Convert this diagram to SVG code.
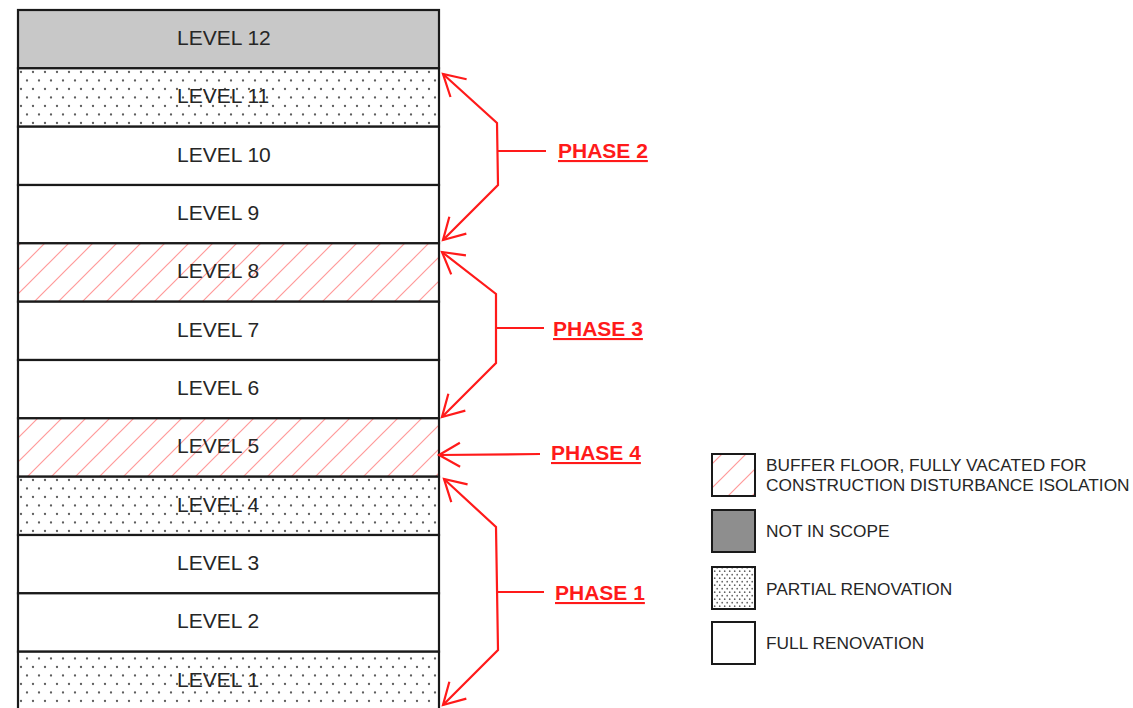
<svg xmlns="http://www.w3.org/2000/svg" width="1133" height="708" viewBox="0 0 1133 708">
<style>
.lvl{stroke:#1a1a1a;stroke-width:2.2}
.lbl{font-family:"Liberation Sans",Arial,sans-serif;font-size:21px;fill:#262626}
.red{fill:none;stroke:#ff1a1a;stroke-width:2.2;stroke-linejoin:miter}
.ph{font-family:"Liberation Sans",Arial,sans-serif;font-size:21px;font-weight:bold;fill:#ff1a1a;text-decoration:underline}
.lg{font-family:"Liberation Sans",Arial,sans-serif;font-size:17.3px;fill:#262626}
.box{stroke:#1a1a1a;stroke-width:2}
</style>
<defs>
<pattern id="dots" width="12" height="17" patternUnits="userSpaceOnUse" x="18" y="68">
<rect width="12" height="17" fill="#fff"/>
<circle cx="3" cy="4" r="1.15" fill="#5e5e5e"/>
<circle cx="9" cy="12.5" r="1.15" fill="#5e5e5e"/>
</pattern>
<pattern id="dotsS" width="5" height="7" patternUnits="userSpaceOnUse" x="711" y="566">
<rect width="5" height="7" fill="#fff"/>
<circle cx="1.2" cy="1.7" r="0.85" fill="#606060"/>
<circle cx="3.7" cy="5.2" r="0.85" fill="#606060"/>
</pattern>
<pattern id="hatch" width="24" height="24" patternUnits="userSpaceOnUse">
<rect width="24" height="24" fill="#fff"/>
<path d="M-6,6 L6,-6 M0,24 L24,0 M18,30 L30,18" stroke="#ff9a9a" stroke-width="1.2"/>
</pattern>
<marker id="ah" markerWidth="30" markerHeight="30" refX="0" refY="0" viewBox="-25 -15 30 30" markerUnits="userSpaceOnUse" orient="auto-start-reverse">
<path d="M-21,-12 L0,0 L-21,12" fill="none" stroke="#ff1a1a" stroke-width="2.2"/>
</marker>
</defs>
<rect width="1133" height="708" fill="#fff"/>

<g id="building">
<g id="level-12"><rect class="lvl" x="18" y="10" width="421" height="58.3" fill="#c8c8c8"/><text class="lbl" x="177" y="45">LEVEL 12</text></g>
<g id="level-11"><rect class="lvl" x="18" y="68.3" width="421" height="58.4" fill="url(#dots)"/><text class="lbl" x="177" y="103.3">LEVEL 11</text></g>
<g id="level-10"><rect class="lvl" x="18" y="126.7" width="421" height="58.3" fill="#fff"/><text class="lbl" x="177" y="161.6">LEVEL 10</text></g>
<g id="level-9"><rect class="lvl" x="18" y="185" width="421" height="58.3" fill="#fff"/><text class="lbl" x="177" y="219.9">LEVEL 9</text></g>
<g id="level-8"><rect class="lvl" x="18" y="243.3" width="421" height="58.4" fill="url(#hatch)"/><text class="lbl" x="177" y="278.3">LEVEL 8</text></g>
<g id="level-7"><rect class="lvl" x="18" y="301.7" width="421" height="58.3" fill="#fff"/><text class="lbl" x="177" y="336.6">LEVEL 7</text></g>
<g id="level-6"><rect class="lvl" x="18" y="360" width="421" height="58.3" fill="#fff"/><text class="lbl" x="177" y="394.9">LEVEL 6</text></g>
<g id="level-5"><rect class="lvl" x="18" y="418.3" width="421" height="58.4" fill="url(#hatch)"/><text class="lbl" x="177" y="453.3">LEVEL 5</text></g>
<g id="level-4"><rect class="lvl" x="18" y="476.7" width="421" height="58.3" fill="url(#dots)"/><text class="lbl" x="177" y="511.6">LEVEL 4</text></g>
<g id="level-3"><rect class="lvl" x="18" y="535" width="421" height="58.3" fill="#fff"/><text class="lbl" x="177" y="569.9">LEVEL 3</text></g>
<g id="level-2"><rect class="lvl" x="18" y="593.3" width="421" height="58.4" fill="#fff"/><text class="lbl" x="177" y="628.3">LEVEL 2</text></g>
<g id="level-1"><rect class="lvl" x="18" y="651.7" width="421" height="60" fill="url(#dots)"/><text class="lbl" x="177" y="686.6">LEVEL 1</text></g>
</g>

<g id="connectors">
<path class="red" d="M443,74 L497,123 L498,185 L443,240" marker-start="url(#ah)" marker-end="url(#ah)"/>
<path class="red" d="M498,151 L546,151"/>
<path class="red" d="M442,252 L496,294 L496,363 L442,417" marker-start="url(#ah)" marker-end="url(#ah)"/>
<path class="red" d="M496,328 L544,328"/>
<path class="red" d="M540,454 L439,455" marker-end="url(#ah)"/>
<path class="red" d="M444,479 L496,527 L498,650 L443,705" marker-start="url(#ah)" marker-end="url(#ah)"/>
<path class="red" d="M497,592 L544,592"/>
</g>

<g id="phase-2"><text class="ph" x="558" y="158">PHASE 2</text></g>
<g id="phase-3"><text class="ph" x="553" y="336">PHASE 3</text></g>
<g id="phase-4"><text class="ph" x="551" y="460">PHASE 4</text></g>
<g id="phase-1"><text class="ph" x="555" y="600">PHASE 1</text></g>

<g id="legend">
<g id="legend-buffer"><rect class="box" x="712" y="454" width="43" height="42" fill="url(#hatch)"/><text class="lg" x="766" y="471">BUFFER FLOOR, FULLY VACATED FOR</text><text class="lg" x="766" y="491">CONSTRUCTION DISTURBANCE ISOLATION</text></g>
<g id="legend-notscope"><rect class="box" x="712" y="510" width="43" height="42" fill="#8e8e8e"/><text class="lg" x="766" y="537">NOT IN SCOPE</text></g>
<g id="legend-partial"><rect class="box" x="712" y="567" width="43" height="42" fill="url(#dotsS)"/><text class="lg" x="766" y="595">PARTIAL RENOVATION</text></g>
<g id="legend-full"><rect class="box" x="712" y="622" width="43" height="42" fill="#fff"/><text class="lg" x="766" y="649">FULL RENOVATION</text></g>
</g>
</svg>
